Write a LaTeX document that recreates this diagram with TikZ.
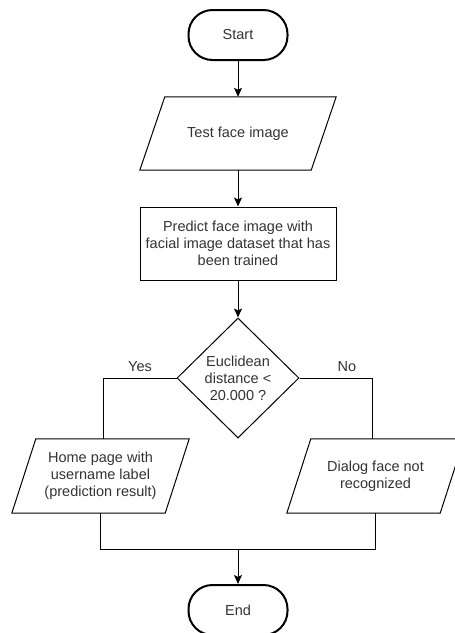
\documentclass[tikz,border=0pt]{standalone}
\usepackage{fontspec}
\setmainfont{Liberation Sans}
\usetikzlibrary{shapes.geometric,arrows.meta}
\definecolor{txt}{HTML}{333333}
\tikzset{
  base/.style={font=\fontsize{14.5}{17}\selectfont, text=txt, align=center, inner sep=0pt},
  term/.style={base, draw=black, line width=2pt, rounded corners=24pt, minimum width=99pt, minimum height=50pt},
  iobox/.style={base, minimum width=#1, minimum height=73pt},
  procbox/.style={base, draw=black, line width=1pt, minimum width=196pt, minimum height=73pt},
  decbox/.style={base, draw=black, line width=1pt, diamond, minimum width=122pt, minimum height=120pt},
  conn/.style={line width=1pt, draw=black},
  arr/.style={conn, -{Stealth[length=9pt,width=8pt,inset=2pt]}},
  lbl/.style={base}
}
\newcommand{\ioshape}[2]{%
  \draw[line width=1pt] ([xshift=#2]#1.north west) -- (#1.north east) -- ([xshift=-#2]#1.south east) -- (#1.south west) -- cycle;}
\begin{document}
\begin{tikzpicture}[x=1pt,y=-1pt]
\useasboundingbox (0,0) rectangle (455,633);
\node[term] (start) at (238,35) {Start};
\node[iobox=196pt] (test) at (238,133.5) {Test face image};
\ioshape{test}{25pt}
\node[procbox] (pred) at (238,243.5) {Predict face image with\\facial image dataset that has\\been trained};
\node[decbox] (dec) at (238,378) {Euclidean\\distance <\\20.000 ?};
\node[iobox=177pt, minimum height=74pt] (yes) at (100.5,476) {Home page with\\username label\\(prediction result)};
\ioshape{yes}{24pt}
\node[iobox=177pt, minimum height=74pt] (no) at (375.5,476) {Dialog face not\\recognized};
\ioshape{no}{24pt}
\node[term] (end) at (238,610) {End};
\coordinate (join) at (238,549);

\draw[arr] (start) -- (test);
\draw[arr] (test) -- (pred);
\draw[arr] (pred) -- (dec);
\draw[conn] (dec.west) -| ([xshift=2.5pt]yes.north);
\draw[conn] (dec.east) -| ([xshift=-3.5pt]no.north);
\node[lbl] (ylab) at (140,367) {Yes};
\node[lbl] (nlab) at (347,367) {No};
\draw[conn] (yes.south) |- (join);
\draw[conn] (no.south) |- (join);
\draw[arr] (join) -- (end);
\end{tikzpicture}
\end{document}
